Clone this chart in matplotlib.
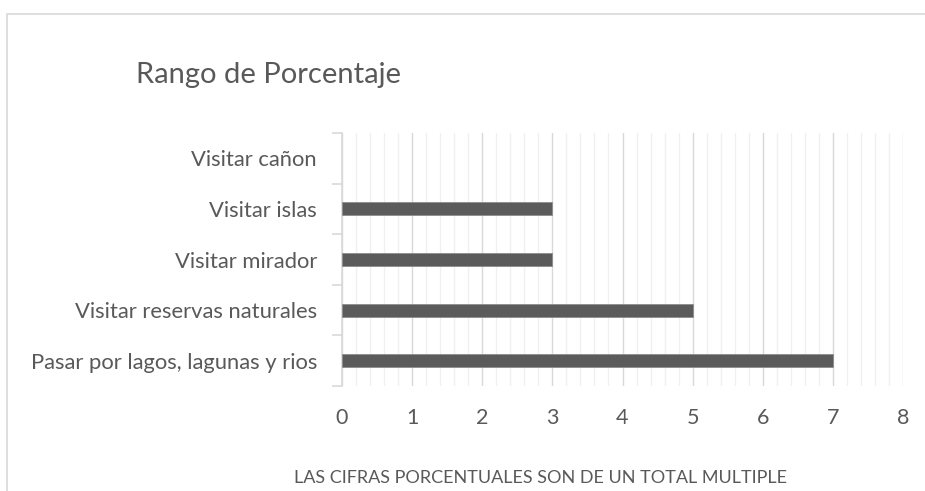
import matplotlib.pyplot as plt
from matplotlib.patches import Rectangle
from matplotlib.ticker import MultipleLocator, FixedLocator

# Data
categories = ["Pasar por lagos, lagunas y rios", "Visitar reservas naturales",
              "Visitar mirador", "Visitar islas", "Visitar cañon"]
values = [7, 5, 3, 3, 0]

title = "Rango de Porcentaje"
xlabel = "LAS CIFRAS PORCENTUALES SON DE UN TOTAL MULTIPLE"

text_color = "#595959"
plt.rcParams["font.family"] = ["Lato", "DejaVu Sans"]

W, H = 925, 491
fig = plt.figure(figsize=(W / 100, H / 100), dpi=100)

# chart area border (cropped on the right and bottom)
fig.patches.append(Rectangle((7 / W, -0.05), 1.0, 1 - 14 / H + 0.05,
                             transform=fig.transFigure, fill=False,
                             edgecolor="#d9d9d9", linewidth=1.2))

ax = fig.add_axes([342 / W, 1 - 386 / H, (903 - 342) / W, (386 - 133) / H])

ax.barh(range(len(categories)), values, height=0.26, color="#5b5b5b",
        edgecolor="#8c8c8c", linewidth=[0.6 if v > 0 else 0 for v in values],
        zorder=3)

ax.set_xlim(0, 8)
ax.set_ylim(-0.5, len(categories) - 0.5)

# grid
ax.xaxis.set_major_locator(MultipleLocator(1))
ax.xaxis.set_minor_locator(MultipleLocator(0.2))
ax.grid(axis="x", which="major", color="#d9d9d9", linewidth=1.0, zorder=0)
ax.grid(axis="x", which="minor", color="#f0f0f0", linewidth=1.0, zorder=0)
ax.set_axisbelow(True)

# y axis: labels centered, tick marks on category boundaries
ax.set_yticks(range(len(categories)))
ax.set_yticklabels(categories)
ax.yaxis.set_minor_locator(FixedLocator([i - 0.5 for i in range(len(categories) + 1)]))
ax.tick_params(axis="y", which="major", length=0, pad=18, labelsize=15.8,
               labelcolor=text_color)
ax.tick_params(axis="y", which="minor", length=7, width=1.2, color="#d9d9d9")
ax.tick_params(axis="x", which="both", length=0, pad=16, labelsize=15.5,
               labelcolor=text_color)

for s in ["top", "right", "bottom"]:
    ax.spines[s].set_visible(False)
ax.spines["left"].set_color("#d9d9d9")
ax.spines["left"].set_linewidth(1.2)

fig.text(268 / W, 1 - 83 / H, title, ha="center", va="baseline",
         fontsize=21, color=text_color)
fig.text(541 / W, 1 - 483 / H, xlabel, ha="center", va="baseline",
         fontsize=13, color=text_color)

fig.savefig("out.png", dpi=100)
